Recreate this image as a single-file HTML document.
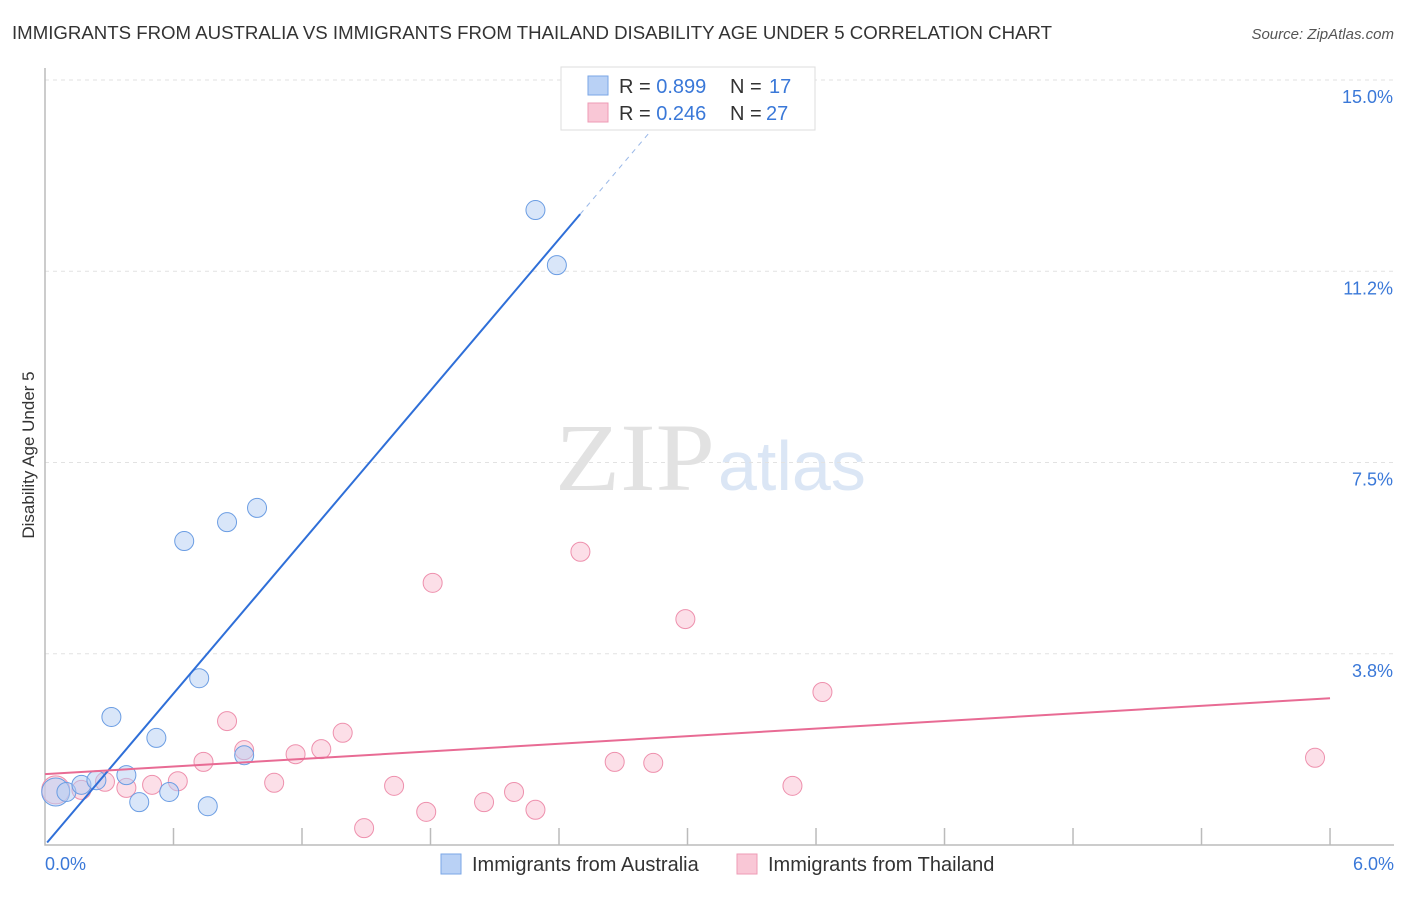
<!DOCTYPE html>
<html><head><meta charset="utf-8"><style>
body{margin:0;background:#fff;font-family:"Liberation Sans",sans-serif;}
svg text{font-family:"Liberation Sans",sans-serif;}
</style></head><body>
<svg id="c" width="1406" height="892">
<text x="12" y="39" font-size="18" fill="#333" textLength="1040" lengthAdjust="spacingAndGlyphs">IMMIGRANTS FROM AUSTRALIA VS IMMIGRANTS FROM THAILAND DISABILITY AGE UNDER 5 CORRELATION CHART</text>
<text x="1394" y="39" font-size="15" fill="#555" font-style="italic" text-anchor="end">Source: ZipAtlas.com</text>
<text x="34" y="455" font-size="17" fill="#333" text-anchor="middle" transform="rotate(-90 34 455)">Disability Age Under 5</text>
<text x="555" y="490" font-size="96" fill="#e2e2e2" font-family="Liberation Serif" textLength="160" lengthAdjust="spacingAndGlyphs" style="font-family:'Liberation Serif',serif">ZIP</text>
<text x="718" y="490" font-size="70" fill="#dbe6f5">atlas</text>
<g id="grid"></g><g id="marks"></g>
<g>
<rect x="561" y="67" width="254" height="63" fill="#fff" stroke="#ddd"/>
<rect x="588" y="76" width="20" height="19" fill="#b9d1f5" stroke="#7aa6e6"/>
<rect x="588" y="103" width="20" height="19" fill="#f9c7d6" stroke="#ee9bb5"/>
<text x="619" y="93" font-size="20" fill="#333">R = <tspan fill="#3a78d8">0.899</tspan></text>
<text x="730" y="93" font-size="20" fill="#333">N =</text>
<text x="769" y="93" font-size="20" fill="#3a78d8">17</text>
<text x="619" y="120" font-size="20" fill="#333">R = <tspan fill="#3a78d8">0.246</tspan></text>
<text x="730" y="120" font-size="20" fill="#333">N =</text>
<text x="766" y="120" font-size="20" fill="#3a78d8">27</text>
</g>
<g>
<rect x="441" y="854" width="20" height="20" fill="#b9d1f5" stroke="#7aa6e6"/>
<text x="472" y="871" font-size="20" fill="#333">Immigrants from Australia</text>
<rect x="737" y="854" width="20" height="20" fill="#f9c7d6" stroke="#ee9bb5"/>
<text x="768" y="871" font-size="20" fill="#333">Immigrants from Thailand</text>
</g>
</svg>
<script>
const yTicks=[3.75,7.5,11.25,15];
const yTickLabels=["3.8%","7.5%","11.2%","15.0%"];
const xTickLabels=["0.0%","6.0%"];
const ausX=[0.05,0.10,0.17,0.24,0.31,0.38,0.44,0.52,0.58,0.65,0.72,0.76,0.85,0.93,0.99,2.29,2.39];
const ausY=[1.04,1.04,1.18,1.27,2.51,1.37,0.84,2.10,1.04,5.96,3.27,0.76,6.33,1.76,6.61,12.45,11.37];
const thaX=[0.05,0.17,0.28,0.38,0.50,0.62,0.74,0.85,0.93,1.07,1.17,1.29,1.39,1.49,1.63,1.78,1.81,2.05,2.19,2.29,2.50,2.66,2.84,2.99,3.49,3.63,5.93];
const thaY=[1.08,1.08,1.24,1.12,1.18,1.25,1.63,2.43,1.86,1.22,1.78,1.88,2.20,0.33,1.16,0.65,5.14,0.84,1.04,0.69,5.75,1.63,1.61,4.43,1.16,3.00,1.71];
const ausFit=[0,4.95];
const thaFit=[1.39,0.248];
const NS="http://www.w3.org/2000/svg";
const X=v=>45+v*214.17, Y=v=>845-v*51.0;
function mk(t,a,p){const e=document.createElementNS(NS,t);for(const k in a)e.setAttribute(k,a[k]);p.appendChild(e);return e;}
const g=document.getElementById('grid'),m=document.getElementById('marks');
yTicks.forEach((v,i)=>{
 const l=mk('line',{x1:45,x2:1394,y1:Y(v),y2:Y(v),stroke:'#e2e2e2','stroke-dasharray':'4,4'},g);
 
 
 const t=mk('text',{x:1393,y:Y(v)+23,'font-size':18,fill:'#3a78d8','text-anchor':'end'},g);
 t.textContent=yTickLabels[i];
 
 
});
const ax=mk('path',{d:'M45,68 V845 H1394',fill:'none',stroke:'#bbb','stroke-width':1.5},g);


for(let i=1;i<=10;i++){const tk=mk('line',{x1:X(i*0.6),x2:X(i*0.6),y1:828,y2:845,stroke:'#bbb','stroke-width':1.5},g);
 
 }
[[0,'start',45],[6,'end',1394]].forEach((d,i)=>{const t=mk('text',{x:d[2],y:870,'font-size':18,fill:'#3a78d8','text-anchor':d[1]},g);t.textContent=xTickLabels[i];
 
 });
function pts(xs,ys,fill,stroke,name){xs.forEach((x,i)=>{const r=i==0?14:9.5;const c=mk('circle',{cx:X(x),cy:Y(ys[i]),r:r,fill:fill,'fill-opacity':0.5,stroke:stroke,'stroke-width':1},m);
 
 });}
pts(thaX,thaY,'#f9c0d2','#ee90ad','point-thailand');
pts(ausX,ausY,'#b4cdf3','#6b9de3','point-australia');
const xEnd=(12.37-ausFit[0])/ausFit[1], xTop=(15-ausFit[0])/ausFit[1];
const bl=mk('line',{x1:X(0.01),y1:Y(ausFit[0]+ausFit[1]*0.01),x2:X(xEnd),y2:Y(ausFit[0]+ausFit[1]*xEnd),stroke:'#2f6fd8','stroke-width':2},m);


const bd=mk('line',{x1:X(xEnd),y1:Y(ausFit[0]+ausFit[1]*xEnd),x2:X(xTop-0.2),y2:Y(ausFit[0]+ausFit[1]*(xTop-0.2)),stroke:'#9bb9e8','stroke-width':1,'stroke-dasharray':'5,5'},m);


const pl=mk('line',{x1:X(0),y1:Y(thaFit[0]),x2:X(6),y2:Y(thaFit[0]+thaFit[1]*6),stroke:'#e86b94','stroke-width':2},m);


</script>
</body></html>
